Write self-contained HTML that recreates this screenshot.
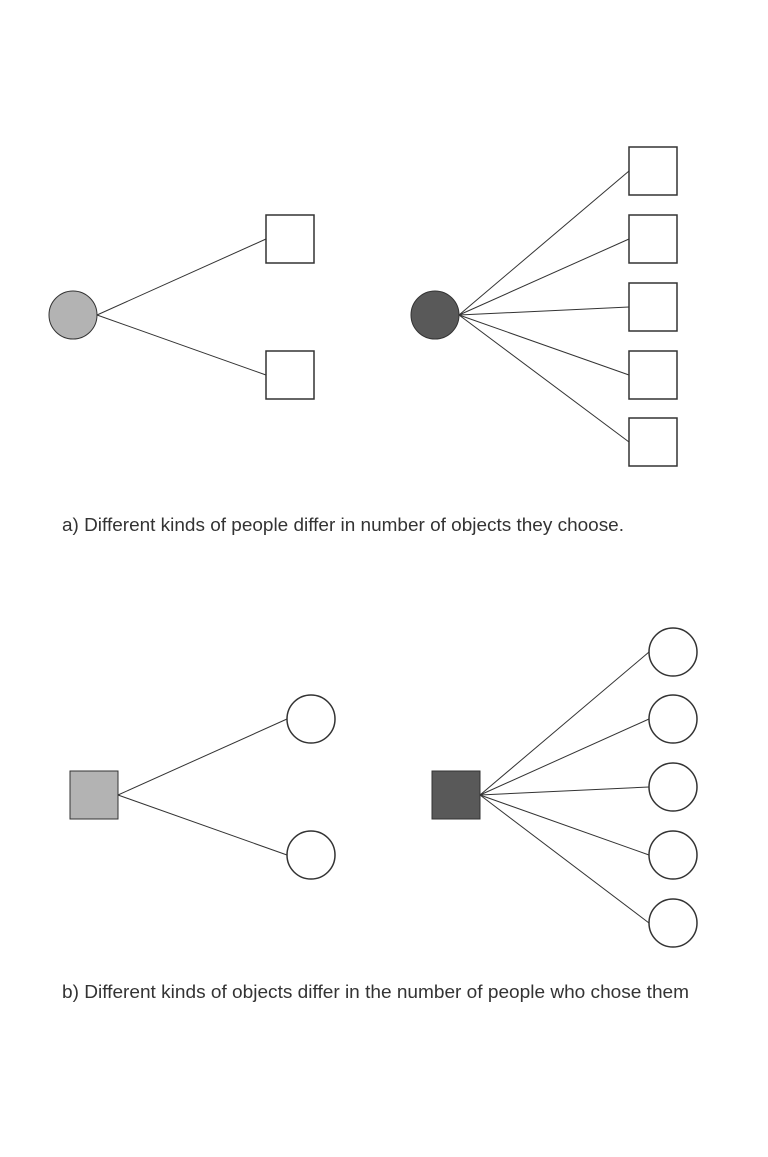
<!DOCTYPE html>
<html><head><style>html,body{margin:0;padding:0;background:#fff}</style></head><body>
<svg width="768" height="1152" viewBox="0 0 768 1152" xmlns="http://www.w3.org/2000/svg">
<g stroke="#333" stroke-width="1" fill="none">
<line x1="97" y1="315" x2="266" y2="239"/><line x1="97" y1="315" x2="266" y2="375"/>
<line x1="459" y1="315" x2="629" y2="171"/><line x1="459" y1="315" x2="629" y2="239"/>
<line x1="459" y1="315" x2="629" y2="307"/><line x1="459" y1="315" x2="629" y2="375"/>
<line x1="459" y1="315" x2="629" y2="442"/>
<line x1="118" y1="795" x2="287" y2="719"/><line x1="118" y1="795" x2="287" y2="855"/>
<line x1="480" y1="795" x2="649" y2="652"/><line x1="480" y1="795" x2="649" y2="719"/>
<line x1="480" y1="795" x2="649" y2="787"/><line x1="480" y1="795" x2="649" y2="855"/>
<line x1="480" y1="795" x2="649" y2="923"/>
</g>
<g stroke="#333" stroke-width="1.5">
<circle cx="73" cy="315" r="24" fill="#b3b3b3" stroke-width="1"/>
<circle cx="435" cy="315" r="24" fill="#595959" stroke-width="1"/>
<g fill="#fff">
<rect x="266" y="215" width="48" height="48"/><rect x="266" y="351" width="48" height="48"/>
<rect x="629" y="147" width="48" height="48"/><rect x="629" y="215" width="48" height="48"/>
<rect x="629" y="283" width="48" height="48"/><rect x="629" y="351" width="48" height="48"/>
<rect x="629" y="418" width="48" height="48"/>
<circle cx="311" cy="719" r="24"/><circle cx="311" cy="855" r="24"/>
<circle cx="673" cy="652" r="24"/><circle cx="673" cy="719" r="24"/>
<circle cx="673" cy="787" r="24"/><circle cx="673" cy="855" r="24"/>
<circle cx="673" cy="923" r="24"/>
</g>
<rect x="70" y="771" width="48" height="48" fill="#b3b3b3" stroke-width="1"/>
<rect x="432" y="771" width="48" height="48" fill="#595959" stroke-width="1"/>
</g>
<g font-family="Liberation Sans, sans-serif" font-size="18" fill="#333">
<text x="62" y="531" textLength="562" lengthAdjust="spacingAndGlyphs">a) Different kinds of people differ in number of objects they choose.</text>
<text x="62" y="998" textLength="627" lengthAdjust="spacingAndGlyphs">b) Different kinds of objects differ in the number of people who chose them</text>
</g>
</svg>
</body></html>
